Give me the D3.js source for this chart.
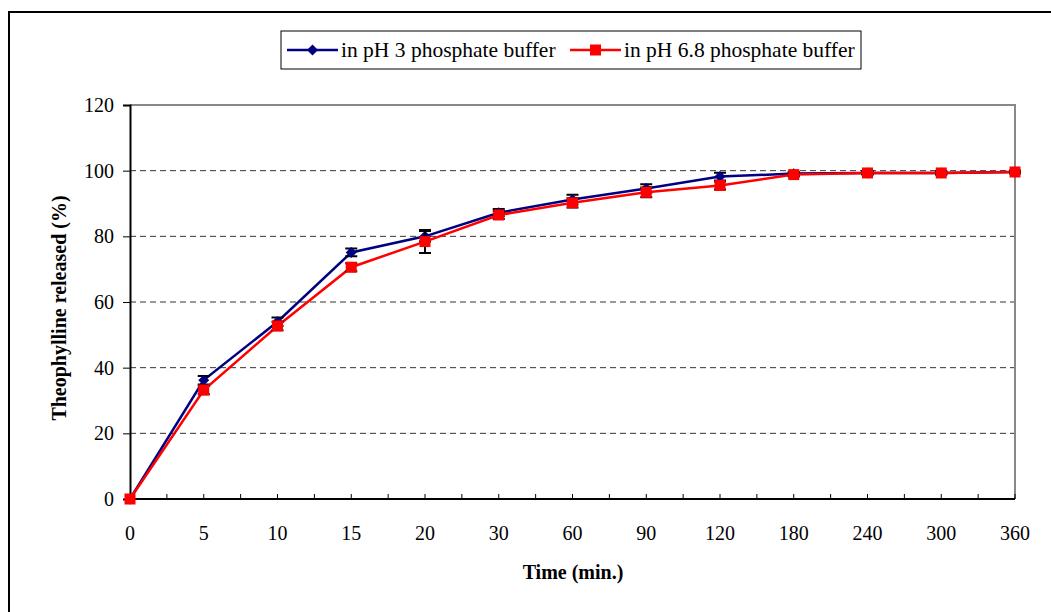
<!DOCTYPE html>
<html lang="en">
  <head>
    <meta charset="utf-8">
    <title>Theophylline release</title>
    <style>
      body { margin: 0; background: #fff; }
      text { font-family: "Liberation Serif", "Times New Roman", serif; }
    </style>
  </head>
  <body>
    <svg width="1051" height="612"></svg>
    <script src="https://cdn.jsdelivr.net/npm/d3@7/dist/d3.min.js"></script>
    <script>
      // time points (categorical axis)
      const times = ['0','5','10','15','20','30','60','90','120','180','240','300','360'];
      const ph3 = [0, 36.2, 54.0, 75.1, 80.0, 87.2, 91.2, 94.6, 98.2, 99.1, 99.3, 99.3, 99.6];
      const ph3Err = [0, 1.3, 1.3, 1.2, 1.6, 1.1, 1.5, 1.3, 1.2, 0.6, 0.5, 0.5, 0.4];
      const ph68 = [0, 33.2, 52.7, 70.6, 78.4, 86.5, 90.2, 93.4, 95.5, 98.8, 99.3, 99.3, 99.6];
      const ph68Err = [0, 1.3, 1.3, 1.2, 3.5, 1.2, 1.4, 1.5, 1.2, 0.6, 0.5, 0.5, 0.4];
      const yTicks = [0, 20, 40, 60, 80, 100, 120];

      const svg = d3.select('svg');
      const plotL = 130, plotR = 1015, plotT = 105, plotB = 499;

      // outer frame (runs past the picture edge)
      svg.append('rect')
        .attr('x', 9).attr('y', 12).attr('width', 1100).attr('height', 700)
        .attr('fill', 'none').attr('stroke', '#000').attr('stroke-width', 2);

      const x = d3.scalePoint().domain(times).range([plotL, plotR]);
      const y = d3.scaleLinear().domain([0, 120]).range([plotB, plotT]);

      // grid lines
      svg.append('g').selectAll('line')
        .data(yTicks.filter(d => d > 0 && d < 120)).enter()
        .append('line')
        .attr('x1', plotL).attr('x2', plotR)
        .attr('y1', d => y(d)).attr('y2', d => y(d))
        .attr('stroke', '#333').attr('stroke-width', 1)
        .attr('stroke-dasharray', '6,4');

      // plot frame top/right
      svg.append('path')
        .attr('d', `M${plotL},${y(120)}H${plotR}V${plotB}`)
        .attr('fill', 'none').attr('stroke', '#888').attr('stroke-width', 2);

      // y axis
      const yAxis = svg.append('g')
        .attr('transform', `translate(${plotL},0)`)
        .call(d3.axisLeft(y).tickValues(yTicks).tickSize(7).tickPadding(9));
      yAxis.select('.domain').attr('stroke-width', 2);
      yAxis.selectAll('text').attr('font-size', 20).attr('fill', '#000')
        .style('font-family', '"Liberation Serif", serif');

      // x axis with inward ticks at categories and midpoints
      const step = x.step();
      const tickPos = d3.range(1, times.length * 2 - 1).map(i => plotL + i * step / 2);
      svg.append('line')
        .attr('x1', plotL).attr('x2', plotR).attr('y1', plotB).attr('y2', plotB)
        .attr('stroke', '#000').attr('stroke-width', 2);
      svg.append('g').selectAll('line')
        .data(tickPos).enter()
        .append('line')
        .attr('x1', d => d).attr('x2', d => d)
        .attr('y1', plotB).attr('y2', plotB - 5)
        .attr('stroke', '#000').attr('stroke-width', 1);
      svg.append('g').selectAll('text')
        .data(times).enter()
        .append('text')
        .attr('x', d => x(d)).attr('y', 540)
        .attr('text-anchor', 'middle').attr('font-size', 20)
        .text(d => d);

      // axis titles
      svg.append('text')
        .attr('x', 573).attr('y', 579)
        .attr('text-anchor', 'middle').attr('font-size', 20).attr('font-weight', 'bold')
        .text('Time (min.)');
      svg.append('text')
        .attr('transform', 'translate(66,308) rotate(-90)')
        .attr('text-anchor', 'middle').attr('font-size', 20).attr('font-weight', 'bold')
        .text('Theophylline released (%)');

      const series = [
        { name: 'in pH 3 phosphate buffer', vals: ph3, err: ph3Err, color: '#000080', rot: 45, size: 60 },
        { name: 'in pH 6.8 phosphate buffer', vals: ph68, err: ph68Err, color: '#ff0000', rot: 0, size: 121 }
      ];

      const line = d3.line().x((d, i) => x(times[i])).y(d => y(d));

      series.forEach(s => {
        const g = svg.append('g');
        g.append('path')
          .attr('d', line(s.vals))
          .attr('fill', 'none').attr('stroke', s.color).attr('stroke-width', 2.5);
        // error bars
        s.vals.forEach((v, i) => {
          const e = s.err[i];
          if (e <= 0) return;
          const cx = x(times[i]);
          g.append('path')
            .attr('d', `M${cx},${y(v + e)}V${y(v - e)}M${cx - 6},${y(v + e)}H${cx + 6}M${cx - 6},${y(v - e)}H${cx + 6}`)
            .attr('stroke', '#000').attr('stroke-width', 2).attr('fill', 'none');
        });
        g.selectAll('path.m').data(s.vals).enter()
          .append('path')
          .attr('class', 'm')
          .attr('transform', (d, i) => `translate(${x(times[i])},${y(d)}) rotate(${s.rot})`)
          .attr('d', d3.symbol().type(d3.symbolSquare).size(s.size))
          .attr('fill', s.color);
      });

      // legend
      const lg = svg.append('g');
      lg.append('rect')
        .attr('x', 281).attr('y', 31).attr('width', 580).attr('height', 38)
        .attr('fill', '#fff').attr('stroke', '#000').attr('stroke-width', 1);
      const legendX = [287, 570];
      series.forEach((s, i) => {
        const lx = legendX[i];
        lg.append('line')
          .attr('x1', lx).attr('x2', lx + 51).attr('y1', 50).attr('y2', 50)
          .attr('stroke', s.color).attr('stroke-width', 2.5);
        lg.append('path')
          .attr('transform', `translate(${lx + 25.5},50) rotate(${s.rot})`)
          .attr('d', d3.symbol().type(d3.symbolSquare).size(s.size))
          .attr('fill', s.color);
        lg.append('text')
          .attr('x', lx + 54).attr('y', 57)
          .attr('font-size', 21.5)
          .text(s.name);
      });
    </script>
  </body>
</html>
